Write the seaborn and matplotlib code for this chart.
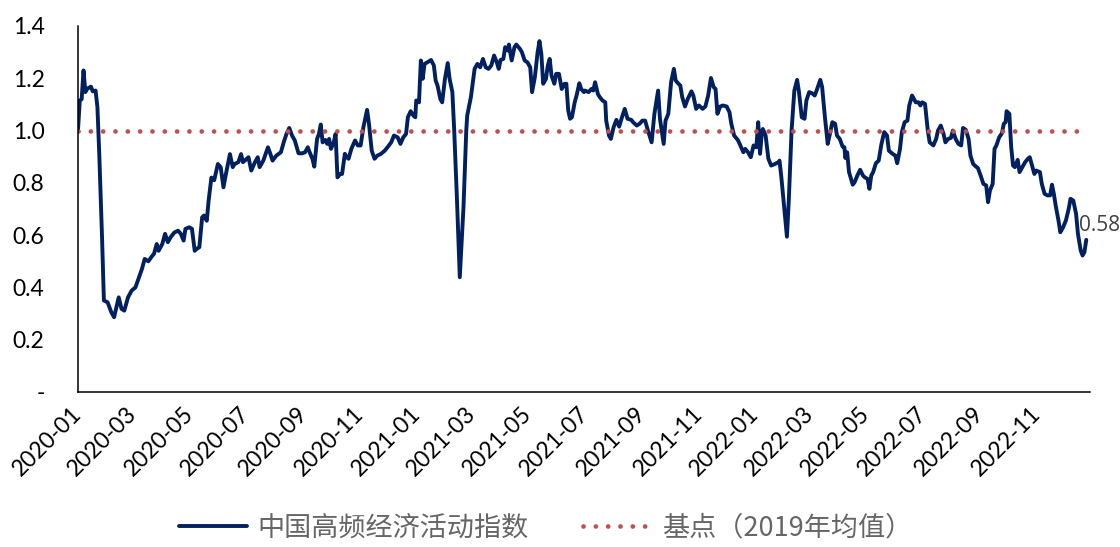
import numpy as np
import pandas as pd
import seaborn as sns
import matplotlib.pyplot as plt
import matplotlib.dates as mdates

# 中国高频经济活动指数（2019年均值 = 1），读图取点
# 日期用自 2020-01-01 起的天数表示
days_2020 = [0, 2, 4, 6, 8, 10, 14, 16, 19, 21, 23, 26, 28, 32, 36, 39, 44, 47, 50, 54,
             58, 62, 65, 69, 72, 76, 80, 82, 85, 87, 91, 94, 97, 100, 104, 108, 111, 114, 116, 120,
             123, 126, 128, 131, 134, 136, 139, 141, 144, 147, 151, 154, 157, 160, 164, 167, 169, 173, 176, 178,
             180, 184, 187, 191, 194, 196, 200, 205, 207, 210, 214, 219, 222, 225, 228, 231, 234, 238, 242, 245,
             248, 250, 253, 255, 258, 260, 262, 264, 267, 269, 271, 273, 276, 278, 280, 283, 285, 288, 290, 292,
             295, 299, 302, 305, 308, 312, 314, 317, 320, 323, 327, 331, 334, 338, 341, 345, 348, 351, 354, 356,
             359, 362, 364, 365]
index_2020 = [1.00, 1.115, 1.12, 1.23, 1.147, 1.16, 1.168, 1.15, 1.153, 1.09, 0.91, 0.59, 0.35, 0.343, 0.305, 0.286, 0.362, 0.318, 0.311, 0.362,
              0.388, 0.40, 0.43, 0.47, 0.509, 0.50, 0.52, 0.528, 0.566, 0.54, 0.566, 0.605, 0.573, 0.592, 0.61, 0.617, 0.605, 0.579, 0.624, 0.63,
              0.624, 0.54, 0.547, 0.554, 0.668, 0.675, 0.655, 0.732, 0.82, 0.81, 0.872, 0.86, 0.783, 0.84, 0.91, 0.86, 0.872, 0.879, 0.91, 0.879,
              0.885, 0.898, 0.847, 0.879, 0.898, 0.86, 0.885, 0.936, 0.917, 0.885, 0.904, 0.917, 0.955, 0.987, 1.01, 0.981, 0.962, 0.913, 0.913, 0.917,
              0.936, 0.917, 0.892, 0.862, 0.968, 0.987, 1.023, 0.955, 0.964, 0.949, 0.968, 0.93, 0.955, 0.987, 0.821, 0.834, 0.834, 0.911, 0.898, 0.892,
              0.93, 0.962, 0.943, 0.943, 1.013, 1.079, 1.026, 0.923, 0.892, 0.904, 0.911, 0.923, 0.936, 0.955, 0.981, 0.974, 0.949, 0.974, 0.987, 1.051,
              1.074, 1.057, 1.051, 1.115]

days_2021 = [368, 370, 372, 374, 377, 381, 384, 386, 388, 391, 393, 396, 399, 401, 404, 406, 409, 412, 416, 419,
             420, 424, 428, 431, 434, 437, 440, 443, 446, 449, 452, 454, 456, 459, 461, 464, 465, 468, 471, 473,
             477, 479, 482, 485, 488, 490, 493, 496, 498, 500, 502, 505, 507, 509, 511, 514, 516, 519, 522, 525,
             527, 529, 531, 533, 536, 538, 541, 543, 546,
             547, 551, 554, 556, 558, 561, 563, 566, 569, 570, 573, 575, 578, 581, 584, 587, 590, 593, 597, 599,
             603, 606, 609, 612, 615, 619, 622, 626, 628, 632, 634, 637, 640, 643, 645, 648, 650, 652, 655, 658,
             662, 664, 667, 670, 674, 677, 680, 683, 686, 688, 690, 693, 696, 700, 703, 705, 708, 712, 714, 718,
             720, 723, 726, 729]
index_2021 = [1.108, 1.268, 1.198, 1.255, 1.261, 1.27, 1.249, 1.191, 1.172, 1.121, 1.108, 1.198, 1.258, 1.198, 1.147, 1.0, 0.732, 0.439, 0.707, 1.0,
              1.057, 1.128, 1.236, 1.255, 1.242, 1.274, 1.242, 1.236, 1.249, 1.287, 1.261, 1.236, 1.27, 1.274, 1.319, 1.306, 1.329, 1.268, 1.319, 1.329,
              1.312, 1.30, 1.268, 1.261, 1.242, 1.147, 1.204, 1.30, 1.342, 1.293, 1.179, 1.198, 1.249, 1.274, 1.21, 1.179, 1.217, 1.217, 1.159, 1.179,
              1.179, 1.077, 1.045, 1.051, 1.108, 1.134, 1.181, 1.159, 1.147,
              1.153, 1.147, 1.159, 1.153, 1.185, 1.14, 1.128, 1.115, 1.108, 1.038, 0.981, 0.968, 1.013, 1.041, 1.015, 1.051, 1.083, 1.045, 1.041, 1.032,
              1.019, 1.026, 1.038, 1.038, 1.0, 0.955, 1.064, 1.153, 1.045, 0.949, 1.038, 1.064, 1.185, 1.236, 1.191, 1.179, 1.172, 1.128, 1.092, 1.121,
              1.15, 1.134, 1.083, 1.096, 1.083, 1.092, 1.134, 1.201, 1.166, 1.159, 1.064, 1.092, 1.096, 1.092, 1.07, 1.026, 0.981, 0.964, 0.949, 0.917,
              0.93, 0.917, 0.898, 0.943]

days_2022 = [732, 734, 736, 738, 739, 742, 745, 748, 752, 756, 757, 759, 762, 765, 767, 770, 773, 776, 778, 781,
             784, 786, 789, 792, 795, 797, 801, 803, 806, 809, 811, 814, 817, 819, 822, 825, 827, 828, 830, 832,
             836, 838, 841, 844, 847, 849, 852, 854, 856, 858, 861, 864, 867, 870, 873, 875, 879, 882, 884, 887,
             889, 892, 895, 897, 900, 901, 904, 907, 909, 911, 914,
             917, 919, 923, 926, 928, 931, 934, 936, 939, 942, 944, 947, 950, 953, 955, 958, 961, 963, 966, 969,
             971, 974, 977, 980, 982, 984, 987, 989, 991, 994, 997, 999, 1001, 1002, 1005, 1007, 1009, 1011, 1014, 1016,
             1019, 1022, 1025, 1027, 1030, 1032, 1034, 1038, 1040, 1043, 1046, 1049, 1051, 1053, 1055, 1058, 1060, 1063, 1066, 1069,
             1071, 1074, 1077, 1079, 1082, 1084, 1086, 1088]
index_2022 = [0.936, 1.032, 0.911, 0.994, 1.006, 0.981, 0.892, 0.866, 0.872, 0.879, 0.885, 0.821, 0.707, 0.594, 0.732, 1.0, 1.153, 1.194, 1.147, 1.051,
              1.045, 1.115, 1.147, 1.143, 1.134, 1.153, 1.194, 1.166, 1.051, 0.949, 0.981, 1.032, 1.026, 0.981, 0.968, 0.939, 0.936, 0.895, 0.917, 0.841,
              0.793, 0.802, 0.828, 0.85, 0.828, 0.821, 0.815, 0.777, 0.828, 0.841, 0.875, 0.885, 0.949, 0.994, 0.981, 0.923, 0.911, 0.904, 0.875, 0.93,
              0.994, 1.032, 1.038, 1.096, 1.134, 1.128, 1.108, 1.108, 1.096, 1.108, 1.102,
              1.0, 0.955, 0.943, 0.968, 1.0, 1.019, 0.987, 0.955, 0.968, 0.972, 1.0, 0.968, 0.949, 0.943, 1.01, 1.003, 0.968, 0.904, 0.872, 0.862,
              0.857, 0.828, 0.796, 0.79, 0.726, 0.77, 0.796, 0.93, 0.943, 0.974, 0.99, 1.026, 1.032, 1.074, 1.064, 0.936, 0.866, 0.86, 0.888, 0.841,
              0.86, 0.879, 0.892, 0.898, 0.86, 0.834, 0.847, 0.841, 0.796, 0.758, 0.752, 0.752, 0.793, 0.758, 0.713, 0.656, 0.611, 0.63, 0.656, 0.70,
              0.739, 0.732, 0.681, 0.605, 0.541, 0.522, 0.535, 0.582]

base_level = 1.0
last_label = "0.58"
series_name = "中国高频经济活动指数"
base_name = "基点（2019年均值）"
y_ticks = [0, 0.2, 0.4, 0.6, 0.8, 1.0, 1.2, 1.4]
y_labels = ["-", "0.2", "0.4", "0.6", "0.8", "1.0", "1.2", "1.4"]
year_marks = ["2021-01-01", "2022-01-01"]

# 整理数据
days = days_2020 + days_2021 + days_2022
vals = index_2020 + index_2021 + index_2022
df = pd.DataFrame({"date": pd.Timestamp("2020-01-01") + pd.to_timedelta(days, unit="D"),
                   "index": vals})
df["base"] = base_level

sns.set_style("white")
plt.rcParams["font.family"] = ["Lato", "Noto Sans CJK SC", "DejaVu Sans"]

fig = plt.figure(figsize=(11.2, 5.47), dpi=100)
ax = fig.add_axes([0.0696, 0.2834, 0.9036, 0.6691])

sns.lineplot(data=df, x="date", y="index", ax=ax, color="#002060", linewidth=2.8, label=series_name)
sns.lineplot(data=df, x="date", y="base", ax=ax, color="#C0504D", linewidth=3.4, label=base_name)
base_line = ax.lines[-1]
base_line.set_dashes((0.01, 2.6))
base_line.set_dash_capstyle("round")

ax.set_xlim(pd.Timestamp("2020-01-01"), pd.Timestamp("2022-12-28"))
ax.set_ylim(0, 1.4)
ax.set_xlabel("")
ax.set_ylabel("")

# 坐标轴刻度
tick_dates = pd.date_range("2020-01-01", "2022-11-01", freq="2MS")
ax.set_xticks(mdates.date2num(tick_dates.to_pydatetime()))
ax.set_xticklabels(tick_dates.strftime("%Y-%m"), rotation=45, ha="right", va="center",
                   rotation_mode="anchor")
ax.set_xticks(mdates.date2num(pd.to_datetime(year_marks).to_pydatetime()), minor=True)
ax.tick_params(axis="x", which="major", length=0, pad=13, labelsize=16.5, labelcolor="black")
ax.tick_params(axis="x", which="minor", length=5, width=1, direction="in", color="black")
ax.set_yticks(y_ticks)
ax.set_yticklabels(y_labels)
ax.tick_params(axis="y", length=0, pad=24, labelsize=16.5, labelcolor="black")

sns.despine(ax=ax)
for side in ["left", "bottom"]:
    ax.spines[side].set_color("black")
    ax.spines[side].set_linewidth(1.1)

ax.annotate(last_label, xy=(df["date"].iloc[-1], vals[-1]), xytext=(-5, 10),
            textcoords="offset points", ha="left", va="center", fontsize=15,
            color="#404040", family=["Open Sans"])

handles, labels = ax.get_legend_handles_labels()
ax.get_legend().remove()
fig.legend(handles, labels, loc="center", bbox_to_anchor=(0.487, 0.034), ncol=2,
           frameon=False, prop={"family": ["Noto Sans CJK SC"], "size": 19.5},
           labelcolor="#666666", handlelength=2.5, handletextpad=0.4, columnspacing=2.0,
           borderaxespad=0, borderpad=0.2)

fig.savefig("out.png", dpi=100)
